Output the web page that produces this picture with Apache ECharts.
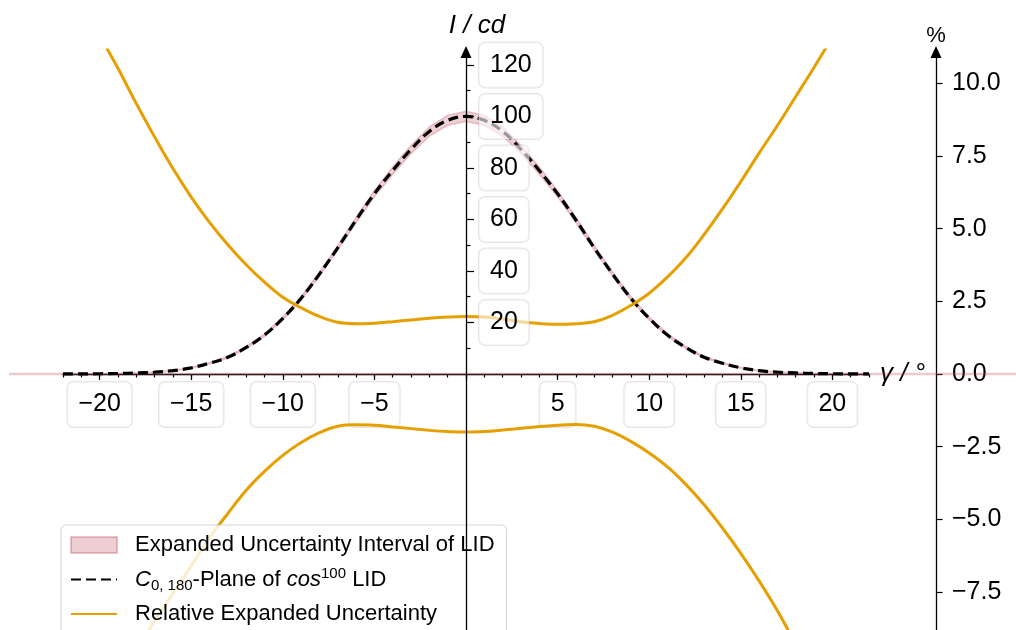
<!DOCTYPE html>
<html>
<head>
<meta charset="utf-8">
<script src="https://cdn.jsdelivr.net/npm/echarts@6/dist/echarts.min.js"></script>
<style>
  html, body { margin: 0; padding: 0; background: #fff; }
  #chart { width: 1016px; height: 630px; }
</style>
</head>
<body>
<div id="chart"></div>
<script>
// angle gamma in degrees
const gamma = [-22, -21, -20, -19, -18, -17, -16, -15, -14, -13, -12, -11, -10, -9, -8, -7, -6, -5, -4, -3, -2, -1,
  0, 1, 2, 3, 4, 5, 6, 7, 8, 9, 10, 11, 12, 13, 14, 15, 16, 17, 18, 19, 20, 21, 22];
// luminous intensity I / cd (C0,180 plane)
const intensity = [0.02, 0.05, 0.1, 0.2, 0.4, 0.7, 1.3, 2.4, 4.2, 6.5, 10.3, 15.1, 21.6, 29.4, 38.8, 49, 59.8, 70, 79, 87.2, 94.2, 98.5,
  100, 98.5, 94.2, 87.2, 79, 70, 59.8, 49, 38.8, 29.4, 21.6, 15.1, 10.3, 6.5, 4.2, 2.4, 1.3, 0.7, 0.4, 0.2, 0.1, 0.05, 0.02];
// relative expanded uncertainty in %, upper and lower branch
const relUncUpper = [14.0, 12.8, 11.65, 10.52, 9.31, 8.16, 7.07, 6.09, 5.22, 4.45, 3.76, 3.16, 2.64, 2.28, 1.98, 1.78, 1.73, 1.75, 1.80, 1.86, 1.92, 1.96,
  1.98, 1.96, 1.89, 1.80, 1.74, 1.71, 1.73, 1.80, 2.02, 2.36, 2.78, 3.34, 4.00, 4.80, 5.68, 6.62, 7.60, 8.55, 9.55, 10.55, 11.6, 12.7, 13.9];
const relUncLower = [-14.0, -12.8, -11.6, -10.5, -9.5, -8.5, -7.55, -6.6, -5.63, -4.8, -4.0, -3.35, -2.8, -2.36, -2.02, -1.80, -1.75, -1.76, -1.82, -1.88, -1.94, -1.98,
  -2.0, -1.98, -1.93, -1.87, -1.81, -1.76, -1.74, -1.80, -2.0, -2.32, -2.72, -3.2, -3.8, -4.5, -5.3, -6.17, -7.12, -8.15, -9.3, -10.5, -11.7, -12.9, -14.1];

const xLabelValues = [-20, -15, -10, -5, 5, 10, 15, 20];
const xMajorTicks = [-20, -15, -10, -5, 0, 5, 10, 15, 20];
const yLabelValues = [20, 40, 60, 80, 100, 120];
const yMinorTicks = [10, 30, 50, 70, 90, 110];
const pctTicks = [-7.5, -5, -2.5, 0, 2.5, 5, 7.5, 10];
// band continues at zero beyond the plotted range
const tailLine = [[0, 0], [1, 0]];

const FONT = 'Liberation Sans';
const leftMin = -99.4, leftMax = 125.8;
const rightMin = -8.81, rightMax = 11.15;
// axes cross at gamma = 0, I = 0
const xAxisShift = -256;
const yAxisShift = -403;

const minus = v => String(v).replace('-', '\u2212');

const boxLabel = {
  color: '#000',
  fontFamily: FONT,
  fontSize: 25,
  backgroundColor: 'rgba(255,255,255,0.6)',
  borderColor: 'rgba(190,190,190,0.4)',
  borderWidth: 1,
  borderRadius: 6,
  padding: [10, 11, 10, 11]
};

const bandPoints = api => {
  const top = [], bottom = [];
  for (let i = 0; i < gamma.length; i++) {
    top.push(api.coord([gamma[i], intensity[i] * (1 + relUncUpper[i] / 100)]));
    bottom.push(api.coord([gamma[i], intensity[i] * (1 + relUncLower[i] / 100)]));
  }
  return top.concat(bottom.reverse());
};

const chart = echarts.init(document.getElementById('chart'), null, { renderer: 'canvas' });

chart.setOption({
  animation: false,
  backgroundColor: '#fff',
  textStyle: { fontFamily: FONT },
  grid: [
    { left: 63, right: 147, top: 50, bottom: 0, containLabel: false, outerBoundsMode: 'none' },
    { left: 9, right: 0, top: 50, bottom: 0, containLabel: false, outerBoundsMode: 'none' }
  ],
  legend: {
    left: 61,
    top: 525,
    height: 400,
    orient: 'vertical',
    selectedMode: false,
    itemWidth: 46,
    itemHeight: 16,
    itemGap: 8,
    padding: [7, 12, 30, 9],
    backgroundColor: 'rgba(255,255,255,0.8)',
    borderColor: 'rgba(200,200,200,0.8)',
    borderWidth: 1,
    borderRadius: 5,
    textStyle: {
      fontFamily: FONT,
      fontSize: 22,
      color: '#000',
      lineHeight: 26,
      padding: [0, 0, 0, 13],
      rich: {
        it: { fontFamily: FONT, fontSize: 22, fontStyle: 'italic', color: '#000' },
        sub: { fontFamily: FONT, fontSize: 15, color: '#000', padding: [12, 0, 0, 0] },
        sup: { fontFamily: FONT, fontSize: 15, color: '#000', padding: [0, 0, 12, 0] }
      }
    },
    formatter: name => name.startsWith('C0')
      ? '{it|C}{sub|0, 180}-Plane of {it|cos}{sup|100} LID'
      : name,
    data: [
      {
        name: 'Expanded Uncertainty Interval of LID',
        icon: 'rect',
        itemStyle: { color: 'rgba(190,80,95,0.28)', borderColor: 'rgba(190,80,95,0.45)', borderWidth: 1.5 }
      },
      { name: 'C0,180-Plane of cos100 LID', itemStyle: { opacity: 0 } },
      { name: 'Relative Expanded Uncertainty', itemStyle: { opacity: 0 } }
    ]
  },
  xAxis: [
    {
      type: 'value', gridIndex: 0, min: -22, max: 22, interval: 1,
      position: 'bottom', offset: xAxisShift,
      name: 'γ / °', nameLocation: 'end', nameGap: 11,
      nameTextStyle: { fontFamily: FONT, fontSize: 26, fontStyle: 'italic', color: '#000' },
      axisLine: { onZero: false, lineStyle: { color: '#000', width: 1.3 } },
      axisTick: { length: 3.5, lineStyle: { color: '#000', width: 1.2 } },
      axisLabel: Object.assign({ customValues: xLabelValues, margin: 8, formatter: minus }, boxLabel),
      splitLine: { show: false }
    },
    {
      type: 'value', gridIndex: 0, min: -22, max: 22, interval: 1,
      position: 'bottom', offset: xAxisShift,
      axisLine: { show: false, onZero: false },
      axisTick: { customValues: xMajorTicks, length: 6, lineStyle: { color: '#000', width: 1.2 } },
      axisLabel: { show: false },
      splitLine: { show: false }
    },
    {
      type: 'value', gridIndex: 1, min: 0, max: 1, show: false
    }
  ],
  yAxis: [
    {
      type: 'value', gridIndex: 0, min: leftMin, max: leftMax,
      position: 'left', offset: yAxisShift, z: 10,
      name: 'I / cd', nameLocation: 'end', nameGap: 11,
      nameTextStyle: { fontFamily: FONT, fontSize: 26, fontStyle: 'italic', color: '#000', padding: [0, 0, 0, 22] },
      axisLine: {
        onZero: false,
        symbol: ['none', 'triangle'], symbolSize: [11, 12], symbolOffset: [0, -2],
        lineStyle: { color: '#000', width: 1.3 }
      },
      axisTick: { inside: true, customValues: yLabelValues, length: 8, lineStyle: { color: '#000', width: 1.2 } },
      axisLabel: Object.assign({ inside: true, customValues: yLabelValues, margin: 13 }, boxLabel),
      splitLine: { show: false }
    },
    {
      type: 'value', gridIndex: 0, min: rightMin, max: rightMax,
      position: 'right', offset: 67,
      name: '%', nameLocation: 'end', nameGap: 3,
      nameTextStyle: { fontFamily: FONT, fontSize: 22, color: '#000' },
      axisLine: {
        onZero: false,
        symbol: ['none', 'triangle'], symbolSize: [11, 12], symbolOffset: [0, -2],
        lineStyle: { color: '#000', width: 1.3 }
      },
      axisTick: { customValues: pctTicks, length: 6.5, lineStyle: { color: '#000', width: 1.2 } },
      axisLabel: {
        customValues: pctTicks, margin: 16, color: '#000', fontFamily: FONT, fontSize: 25,
        formatter: v => v.toFixed(1).replace('-', '\u2212')
      },
      splitLine: { show: false }
    },
    {
      type: 'value', gridIndex: 0, min: leftMin, max: leftMax,
      position: 'left', offset: yAxisShift, z: 10,
      axisLine: { show: false, onZero: false },
      axisTick: { inside: true, customValues: yMinorTicks, length: 4.5, lineStyle: { color: '#000', width: 1.2 } },
      axisLabel: { show: false },
      splitLine: { show: false }
    },
    {
      type: 'value', gridIndex: 1, min: leftMin, max: leftMax, show: false
    }
  ],
  series: [
    {
      name: 'tail',
      type: 'line',
      xAxisIndex: 2, yAxisIndex: 3,
      data: tailLine,
      symbol: 'none', silent: true, z: 1,
      lineStyle: { color: 'rgba(190,80,95,0.3)', width: 2.5 }
    },
    {
      name: 'Expanded Uncertainty Interval of LID',
      type: 'custom',
      xAxisIndex: 0, yAxisIndex: 0,
      data: [[0, 0]],
      silent: true, z: 2,
      itemStyle: { color: 'rgba(190,80,95,0.28)' },
      renderItem: (params, api) => ({
        type: 'polygon',
        shape: { points: bandPoints(api) },
        style: { fill: 'rgba(190,80,95,0.26)', stroke: 'rgba(190,80,95,0.3)', lineWidth: 1.5 }
      })
    },
    {
      name: 'C0,180-Plane of cos100 LID',
      type: 'line',
      xAxisIndex: 0, yAxisIndex: 0,
      data: gamma.map((g, i) => [g, intensity[i]]),
      symbol: 'none', smooth: 0.4, z: 3,
      itemStyle: { color: '#000' },
      lineStyle: { color: '#000', width: 3.2, type: [10, 5] }
    },
    {
      name: 'Relative Expanded Uncertainty',
      type: 'line',
      xAxisIndex: 0, yAxisIndex: 1,
      data: gamma.map((g, i) => [g, relUncUpper[i]]),
      symbol: 'none', smooth: 0.4, z: 3,
      itemStyle: { color: '#E69F00' },
      lineStyle: { color: '#E69F00', width: 3 }
    },
    {
      name: 'Relative Expanded Uncertainty',
      type: 'line',
      xAxisIndex: 0, yAxisIndex: 1,
      data: gamma.map((g, i) => [g, relUncLower[i]]),
      symbol: 'none', smooth: 0.4, z: 3,
      itemStyle: { color: '#E69F00' },
      lineStyle: { color: '#E69F00', width: 3 }
    }
  ]
});
</script>
</body>
</html>
